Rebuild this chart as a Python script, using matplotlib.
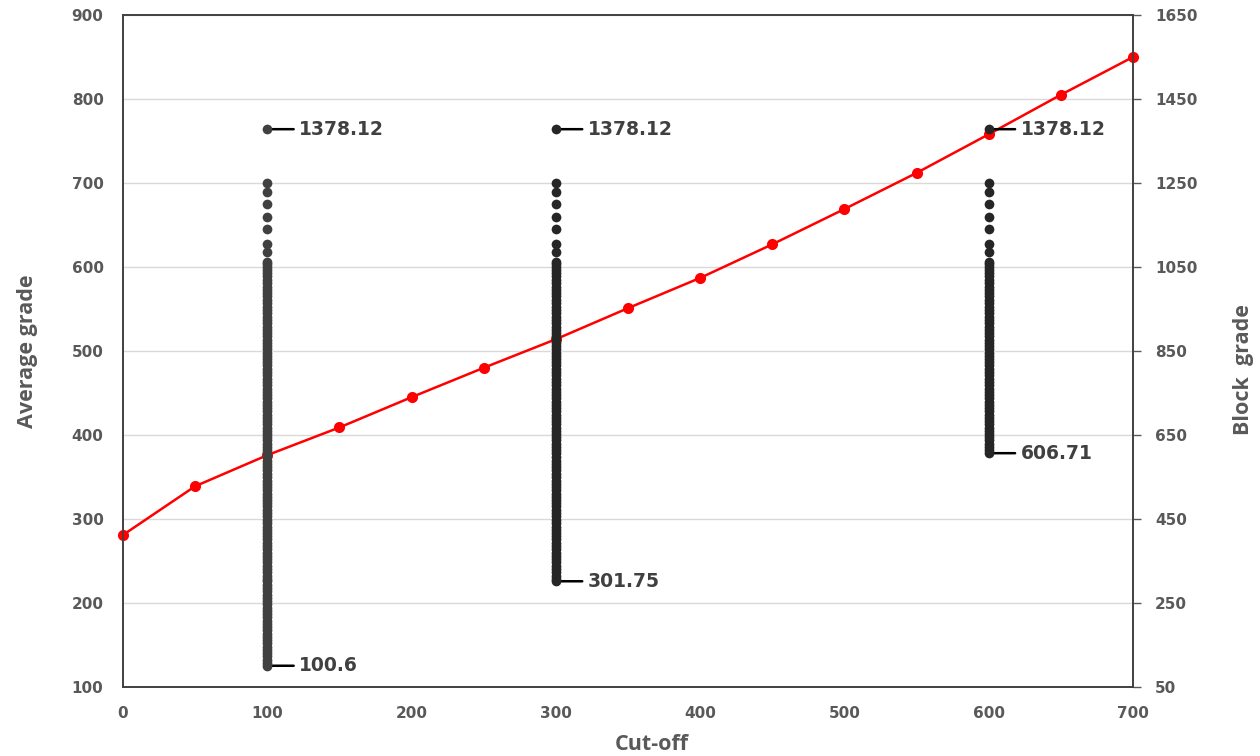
import matplotlib
matplotlib.use("Agg")
import matplotlib.pyplot as plt

# average grade above cut-off (left axis)
cutoff = [0, 50, 100, 150, 200, 250, 300, 350, 400, 450, 500, 550, 600, 650, 700]
avg_grade = [281, 339, 376, 409, 445, 480, 514, 551, 587, 627, 669, 712, 758, 805, 850]

# block grades (right axis); each column shows the blocks at or above its cut-off
block_grade = [
    1378.12, 1251, 1229, 1199, 1168, 1140, 1104, 1086,
    1063, 1056, 1049, 1042, 1035, 1028, 1020, 1012, 1003, 996, 988, 980,
    971, 964, 955, 948, 940,
    932, 924, 917, 908, 901, 893, 886, 877, 870, 862, 855, 846, 839, 831,
    823, 816, 808, 799, 792, 784, 777, 769, 760, 753, 745, 738, 729, 722,
    714, 707, 698, 691, 683, 676, 667, 660, 652, 645, 637, 629, 621, 614,
    606.71, 597, 589, 582, 573, 566, 558, 550, 541, 534, 526, 519, 510,
    503, 495, 487, 480, 471, 464, 456, 448, 441, 432, 425, 417, 409, 402,
    393, 386, 378, 370, 363, 354, 347, 339, 331, 324, 315, 308, 301.75,
    293, 286, 278, 270, 262, 255, 247, 239, 231, 224, 216, 208, 200, 193,
    185, 177, 169, 162, 154, 146, 138, 131, 123, 115, 108, 100.6,
]
columns = [100, 300, 600]
column_colors = ["#404040", "#262626", "#262626"]

label_grey = "#595959"
spine_grey = "#404040"

fig = plt.figure(figsize=(12.6, 7.56), dpi=100)
ax1 = fig.add_axes([123 / 1260, 1 - 687 / 756, 1010 / 1260, 672 / 756])
ax2 = ax1.twinx()

ax1.plot(cutoff, avg_grade, color="#ff0000", lw=1.8, marker="o", ms=8,
         mew=0, clip_on=False, zorder=3)
ax1.set_xlim(0, 700)
ax1.set_ylim(100, 900)
ax1.set_xticks(range(0, 701, 100))
ax1.set_yticks(range(100, 901, 100))
ax1.grid(axis="y", color="#d9d9d9", lw=1)
ax1.set_axisbelow(True)

for c, colr in zip(columns, column_colors):
    vals = [v for v in block_grade if v >= c]
    ax2.plot([c] * len(vals), vals, ls="none", marker="o", ms=7, mew=0,
             color=colr, zorder=4)
    for v in (max(vals), min(vals)):
        ax2.annotate(f"{v:g}", xy=(c, v), xytext=(23, 0),
                     textcoords="offset points", va="center", ha="left",
                     fontsize=13.5, fontweight="bold", color="#404040",
                     arrowprops=dict(arrowstyle="-", color="black", lw=1.8,
                                     relpos=(0, 0.5), shrinkA=2, shrinkB=0))
ax2.set_ylim(50, 1650)
ax2.set_yticks(range(50, 1651, 200))

for lab in ax1.get_xticklabels() + ax1.get_yticklabels() + ax2.get_yticklabels():
    lab.set_fontsize(11)
    lab.set_fontweight("bold")
    lab.set_color(label_grey)
ax1.tick_params(axis="y", length=0, pad=14)
ax1.tick_params(axis="x", length=0, pad=14)
ax2.tick_params(axis="y", direction="out", length=5.8, width=1,
                color=label_grey, pad=10)

for ax in (ax1, ax2):
    for sp in ax.spines.values():
        sp.set_color(spine_grey)
        sp.set_linewidth(1.2)

axis_font = dict(family=["Open Sans", "DejaVu Sans"], fontsize=15.5,
                 fontweight="bold", color=label_grey)
ax1.set_ylabel("Average grade", va="center", **axis_font)
ax1.yaxis.set_label_coords(-0.095, 0.5)
ax2.set_ylabel("Block  grade", va="center", rotation=90, **axis_font)
ax2.yaxis.set_label_coords(1.109, 0.472)
ax1.set_xlabel("Cut-off", va="center", **axis_font)
ax1.xaxis.set_label_coords(0.524, -0.085)

fig.savefig("out.png", dpi=100)
